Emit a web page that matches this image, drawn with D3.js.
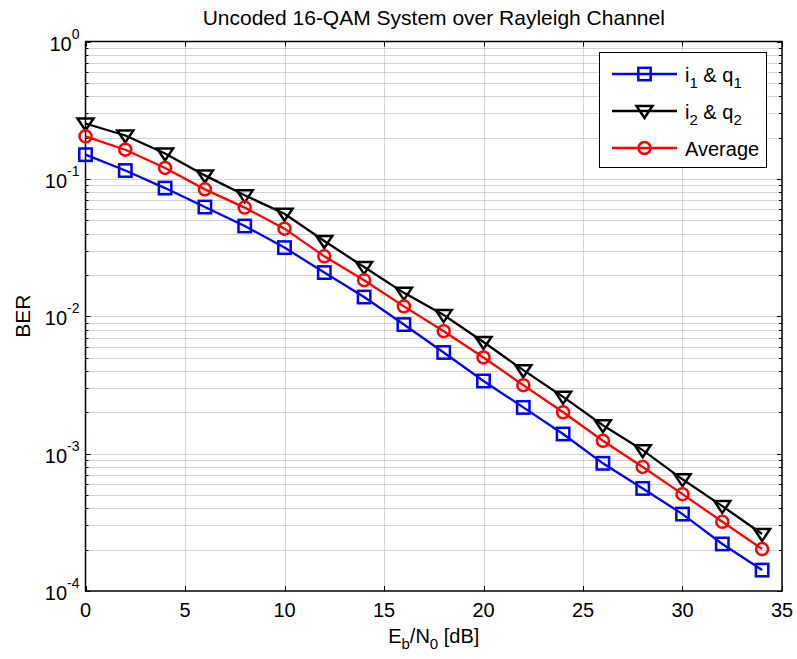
<!DOCTYPE html>
<html><head><meta charset="utf-8">
<script src="https://cdn.jsdelivr.net/npm/d3@7"></script>
<style>
body{margin:0;background:#fff;}
text{font-family:"Liberation Sans",Arial,Helvetica,sans-serif;fill:#000;}
</style></head>
<body>
<svg id="c" width="797" height="659"></svg>
<script>
const ebn0 = [0,2,4,6,8,10,12,14,16,18,20,22,24,26,28,30,32,34];
const berI1Q1 = [0.150,0.115,0.0857,0.0624,0.0454,0.0316,0.0208,0.0138,0.0087,0.00545,0.00338,0.00217,0.00139,0.00085,0.000558,0.000363,0.00022,0.000142];
const berI2Q2 = [0.253,0.207,0.153,0.106,0.0759,0.0558,0.0353,0.0228,0.0148,0.0102,0.0065,0.00405,0.00259,0.00161,0.00106,0.00065,0.000415,0.00026];
const berAvg  = [0.204,0.163,0.120,0.0839,0.0618,0.0434,0.0273,0.0183,0.0118,0.00778,0.00501,0.00315,0.0020,0.00124,0.0008,0.000507,0.000319,0.000202];
const xTicks = [0,5,10,15,20,25,30,35];
const yExps = [0,-1,-2,-3,-4];
const seriesNames = ["i|1| & q|1|", "i|2| & q|2|", "Average"];
const titleText = "Uncoded 16-QAM System over Rayleigh Channel";

const svg = d3.select("#c");
const L=85.5, R=782, T=41.5, B=591;
const x = d3.scaleLinear().domain([0,35]).range([L,R]);
const y = d3.scaleLog().domain([1e-4,1]).range([B,T]);

const g = svg.append("g");
// grid
const minorVals = [];
for (let e=-4;e<0;e++) for (let m=1;m<=9;m++) minorVals.push(m*Math.pow(10,e));
g.selectAll(".ygrid").data(minorVals.filter(v=>v>1e-4)).enter().append("line")
  .attr("x1",L).attr("x2",R).attr("y1",d=>Math.round(y(d))+0.5).attr("y2",d=>Math.round(y(d))+0.5)
  .attr("stroke","#a8a8a8").attr("stroke-width",1).attr("stroke-dasharray","1,1");
g.selectAll(".xgrid").data(xTicks.slice(1,-1)).enter().append("line")
  .attr("y1",T).attr("y2",B).attr("x1",d=>Math.round(x(d))+0.5).attr("x2",d=>Math.round(x(d))+0.5)
  .attr("stroke","#a8a8a8").attr("stroke-width",1).attr("stroke-dasharray","1,1");

// ticks
const tk=5, tkm=3;
xTicks.forEach(v=>{
  const px=Math.round(x(v))+0.5;
  g.append("line").attr("x1",px).attr("x2",px).attr("y1",B).attr("y2",B-tk).attr("stroke","#000");
  g.append("line").attr("x1",px).attr("x2",px).attr("y1",T).attr("y2",T+tk).attr("stroke","#000");
});
minorVals.concat([1]).forEach(v=>{
  const py=Math.round(y(v))+0.5;
  const major = Math.abs(Math.log10(v)-Math.round(Math.log10(v)))<1e-9;
  const len = major?tk:tkm;
  g.append("line").attr("x1",L).attr("x2",L+len).attr("y1",py).attr("y2",py).attr("stroke","#000");
  g.append("line").attr("x1",R).attr("x2",R-len).attr("y1",py).attr("y2",py).attr("stroke","#000");
});
// box
g.append("rect").attr("x",L).attr("y",T).attr("width",R-L).attr("height",B-T)
  .attr("fill","none").attr("stroke","#000").attr("stroke-width",1.5);

// tick labels
g.selectAll(".xl").data(xTicks).enter().append("text")
  .attr("x",d=>x(d)).attr("y",B+26).attr("text-anchor","middle").attr("font-size",20).text(d=>d);
yExps.forEach(e=>{
  const t = g.append("text").attr("x",L-6).attr("y",y(Math.pow(10,e))+9).attr("text-anchor","end").attr("font-size",20);
  t.append("tspan").text("10");
  t.append("tspan").attr("dy",-12).attr("font-size",14).text(e);
});
// title & labels
svg.append("text").attr("x",(L+R)/2).attr("y",25).attr("text-anchor","middle").attr("font-size",21).text(titleText);
const xl = svg.append("text").attr("x",(L+R)/2).attr("y",643).attr("text-anchor","middle").attr("font-size",20);
xl.append("tspan").text("E");
xl.append("tspan").attr("dy",6).attr("font-size",15).text("b");
xl.append("tspan").attr("dy",-6).text("/N");
xl.append("tspan").attr("dy",6).attr("font-size",15).text("0");
xl.append("tspan").attr("dy",-6).text(" [dB]");
svg.append("text").attr("transform",`translate(30,${(T+B)/2}) rotate(-90)`).attr("text-anchor","middle").attr("font-size",21).text("BER");

// series
const series = [
  {vals:berI1Q1,color:"#0000ff",marker:"square"},
  {vals:berI2Q2,color:"#000000",marker:"tri"},
  {vals:berAvg,color:"#ff0000",marker:"circle"}
];
const line = d3.line().x(d=>x(d[0])).y(d=>y(d[1]));
function drawMarker(sel,type,color,cx,cy){
  if(type==="square") sel.append("rect").attr("x",cx-6.2).attr("y",cy-6.2).attr("width",12.4).attr("height",12.4)
     .attr("fill","none").attr("stroke",color).attr("stroke-width",2.5);
  else if(type==="circle") sel.append("circle").attr("cx",cx).attr("cy",cy).attr("r",6)
     .attr("fill","none").attr("stroke",color).attr("stroke-width",2.5);
  else sel.append("path").attr("d",`M${cx-8},${cy-5}L${cx+8},${cy-5}L${cx},${cy+7}Z`)
     .attr("fill","none").attr("stroke",color).attr("stroke-width",2.5).attr("stroke-linejoin","miter");
}
series.forEach(s=>{
  const pts = ebn0.map((v,i)=>[v,s.vals[i]]);
  g.append("path").attr("d",line(pts)).attr("fill","none").attr("stroke",s.color).attr("stroke-width",2.3);
  pts.forEach(p=>drawMarker(g,s.marker,s.color,x(p[0]),y(p[1])));
});

// legend
const lg = svg.append("g");
lg.append("rect").attr("x",599.5).attr("y",52.5).attr("width",167).attr("height",115)
  .attr("fill","#fff").attr("stroke","#000").attr("stroke-width",1);
const rowsY=[74,111,148];
series.forEach((s,i)=>{
  const yy=rowsY[i];
  lg.append("line").attr("x1",612).attr("x2",677).attr("y1",yy).attr("y2",yy).attr("stroke",s.color).attr("stroke-width",2.3);
  drawMarker(lg,s.marker,s.color,644.5,yy);
  const t = lg.append("text").attr("x",685).attr("y",yy+8).attr("font-size",20);
  const parts = seriesNames[i].split("|");
  parts.forEach((p,k)=>{
    if(k%2===1){ t.append("tspan").attr("dy",6).attr("font-size",15).text(p); }
    else if(k>0){ t.append("tspan").attr("dy",-6).text(p); }
    else t.append("tspan").text(p);
  });
});
</script>
</body></html>
